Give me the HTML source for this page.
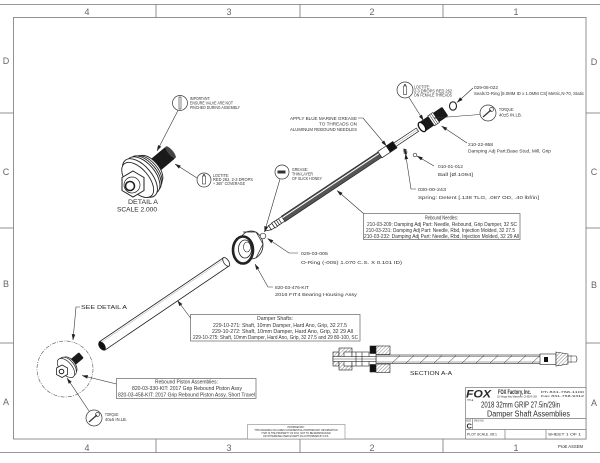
<!DOCTYPE html>
<html><head><meta charset="utf-8">
<style>
html,body{margin:0;padding:0;background:#fff;}
svg{display:block}
text{font-family:"Liberation Sans",sans-serif;fill:#2a2a2a}
.z{font-size:9px;fill:#666}
.n{font-size:4.6px;fill:#333}
.b{font-size:5.4px;fill:#333}
</style></head><body>
<svg width="600" height="463" viewBox="0 0 600 463" xmlns="http://www.w3.org/2000/svg">
<defs>
<marker id="a" markerWidth="6" markerHeight="4" refX="5.8" refY="2" orient="auto" markerUnits="userSpaceOnUse">
<path d="M0,0.2 L6,2 L0,3.8 z" fill="#222"/>
</marker>
<pattern id="h" width="2.5" height="2.5" patternUnits="userSpaceOnUse" patternTransform="rotate(45)">
<rect width="2.5" height="2.5" fill="#fff"/><line x1="0" y1="0" x2="0" y2="2.5" stroke="#333" stroke-width="0.6"/>
</pattern>
</defs>

<!-- FRAME -->
<g stroke="#777" stroke-width="0.8" fill="none">
<line x1="0" y1="4.5" x2="600" y2="4.5"/>
<line x1="0" y1="452.5" x2="600" y2="452.5"/>
<rect x="13.5" y="17.5" width="572.5" height="421.5"/>
<line x1="156" y1="4.5" x2="156" y2="17.5"/>
<line x1="300" y1="4.5" x2="300" y2="17.5"/>
<line x1="443" y1="4.5" x2="443" y2="17.5"/>
<line x1="156" y1="439" x2="156" y2="452.5"/>
<line x1="300" y1="439" x2="300" y2="452.5"/>
<line x1="443" y1="439" x2="443" y2="452.5"/>
<line x1="0" y1="113" x2="13.5" y2="113"/>
<line x1="0" y1="228" x2="13.5" y2="228"/>
<line x1="0" y1="343" x2="13.5" y2="343"/>
<line x1="586" y1="113" x2="600" y2="113"/>
<line x1="586" y1="228" x2="600" y2="228"/>
<line x1="586" y1="343" x2="600" y2="343"/>
</g>
<g class="z" text-anchor="middle">
<text x="87" y="15" class="z">4</text><text x="229" y="15" class="z">3</text>
<text x="372" y="15" class="z">2</text><text x="516" y="15" class="z">1</text>
<text x="87" y="451" class="z">4</text><text x="229" y="451" class="z">3</text>
<text x="372" y="451" class="z">2</text><text x="516" y="451" class="z">1</text>
<text x="6" y="64" class="z">D</text><text x="6" y="175" class="z">C</text>
<text x="6" y="287" class="z">B</text><text x="6" y="405" class="z">A</text>
<text x="594" y="65" class="z">D</text><text x="594" y="175" class="z">C</text>
<text x="594" y="288" class="z">B</text><text x="594" y="406" class="z">A</text>
</g>
<text x="558" y="448" font-size="4.5" textLength="25" lengthAdjust="spacingAndGlyphs" fill="#444">ProE ASSEM</text>

<!-- DETAIL A (large piston) -->
<g transform="translate(140,178) rotate(-40)">
<rect x="10" y="-7.5" width="30" height="15" rx="2" fill="#1a1a1a"/>
<ellipse cx="40" cy="0" rx="2.5" ry="7.5" fill="#444"/>
<g stroke="#222" stroke-width="0.9" fill="#fff">
<ellipse cx="13" cy="0" rx="9" ry="17"/>
<ellipse cx="10" cy="0" rx="10" ry="19"/>
<ellipse cx="7" cy="0" rx="11" ry="21"/>
<ellipse cx="4" cy="0" rx="12" ry="22"/>
<ellipse cx="0" cy="0" rx="12" ry="23"/>
<ellipse cx="-3" cy="0" rx="11" ry="21"/>
</g>
</g>
<g stroke="#222" fill="#fff">
<polygon points="133,171 144,177.5 144,190.5 133,197 122,190.5 122,177.5" stroke-width="1"/>
<circle cx="132" cy="185" r="8" stroke-width="0.7"/>
<circle cx="130" cy="186" r="4.5" stroke-width="1.6"/>
</g>
<text x="128" y="204" font-size="6" textLength="30" lengthAdjust="spacingAndGlyphs" fill="#333">DETAIL  A</text>
<text x="117" y="211.5" font-size="6" textLength="40" lengthAdjust="spacingAndGlyphs" fill="#333">SCALE  2.000</text>

<!-- IMPORTANT callout -->
<circle cx="180" cy="103" r="7.5" fill="#fff" stroke="#333" stroke-width="0.7"/>
<rect x="179" y="97" width="2" height="12" fill="none" stroke="#333" stroke-width="0.6"/>
<path d="M178,110.5 L157,151" fill="none" stroke="#333" stroke-width="0.6" marker-end="url(#a)"/>
<text x="190" y="100" class="n" textLength="20" lengthAdjust="spacingAndGlyphs">IMPORTANT:</text>
<text x="190" y="104.5" class="n" textLength="43" lengthAdjust="spacingAndGlyphs">ENSURE VALVE ARE NOT</text>
<text x="190" y="109" class="n" textLength="50" lengthAdjust="spacingAndGlyphs">PINCHED DURING ASSEMBLY</text>

<!-- LOCTITE detail -->
<circle cx="204" cy="180" r="7" fill="#fff" stroke="#333" stroke-width="0.7"/>
<rect x="202.5" y="176" width="3" height="8" fill="none" stroke="#333" stroke-width="0.6"/>
<rect x="203.3" y="174" width="1.4" height="2" fill="#333"/>
<path d="M197,178 L175,164" fill="none" stroke="#333" stroke-width="0.6" marker-end="url(#a)"/>
<text x="213" y="177" class="n" textLength="16" lengthAdjust="spacingAndGlyphs">LOCTITE:</text>
<text x="213" y="181" class="n" textLength="40" lengthAdjust="spacingAndGlyphs">RED 262, 2-3 DROPS</text>
<text x="213" y="185" class="n" textLength="32" lengthAdjust="spacingAndGlyphs">+ 360° COVERAGE</text>

<!-- DAMPER TUBE -->
<g transform="translate(102,346) rotate(-34.1)">
<rect x="0" y="-5" width="150" height="10" fill="#fff" stroke="#222" stroke-width="0.8"/>
<line x1="2" y1="-3.3" x2="150" y2="-3.3" stroke="#999" stroke-width="0.4"/>
<ellipse cx="150" cy="0" rx="2.5" ry="5" fill="#fff" stroke="#222" stroke-width="0.8"/>
<ellipse cx="0" cy="0" rx="3" ry="5" fill="#111"/>
</g>

<!-- BEARING HOUSING -->
<g stroke="#222" fill="#fff">
<ellipse cx="251" cy="245" rx="12" ry="14" stroke-width="0.8"/>
<path d="M243,232 L256,232 L263,244 L256,258" fill="none" stroke-width="0.7"/>
<ellipse cx="243" cy="250" rx="10" ry="13.5" stroke-width="2.6"/>
<ellipse cx="245" cy="249" rx="6.5" ry="9" stroke-width="0.8"/>
<ellipse cx="247" cy="247" rx="3.5" ry="5" stroke-width="0.6"/>
</g>

<!-- NEEDLE -->
<g transform="translate(265,231) rotate(-33.6)" stroke="#222" stroke-width="0.7">
<polygon points="0,0 6,-2.5 6,2.5" fill="#fff"/>
<rect x="6" y="-2.5" width="4" height="5" fill="#fff"/>
<rect x="10" y="-3" width="3" height="6" fill="#fff"/>
<rect x="13" y="-2.8" width="9" height="5.6" fill="#fff"/>
<line x1="15.5" y1="-2.8" x2="15.5" y2="2.8"/><line x1="18" y1="-2.8" x2="18" y2="2.8"/>
<rect x="22" y="-3.2" width="116" height="6.4" fill="#555"/>
<line x1="22" y1="-1.4" x2="138" y2="-1.4" stroke="#fff" stroke-width="1"/>
<rect x="138" y="-3.8" width="10" height="7.6" fill="#fff"/>
<rect x="148" y="-3.8" width="8" height="7.6" fill="#111"/>
<rect x="156" y="-2" width="27" height="4" fill="#fff"/>
<line x1="156" y1="0" x2="183" y2="0" stroke="#888" stroke-width="0.4"/>
</g>

<!-- STUD 210-22-958 -->
<g transform="translate(422,127) rotate(-34)">
<rect x="0" y="-5.5" width="28" height="11" rx="1.5" fill="#1a1a1a"/>
<rect x="11" y="-6" width="6" height="12" fill="#fff" stroke="#222" stroke-width="0.6"/>
<line x1="13" y1="-6" x2="13" y2="6" stroke="#222" stroke-width="0.5"/>
<line x1="15" y1="-6" x2="15" y2="6" stroke="#222" stroke-width="0.5"/>
<ellipse cx="0" cy="0" rx="2.8" ry="5.3" fill="#fff" stroke="#111" stroke-width="1.3"/>
</g>
<ellipse cx="453" cy="106" rx="3.5" ry="4.2" fill="none" stroke="#222" stroke-width="1.1"/>

<!-- small o-ring, ball, spring -->
<circle cx="263" cy="236" r="2.8" fill="#fff" stroke="#333" stroke-width="0.7"/>
<circle cx="415" cy="155" r="1.8" fill="#fff" stroke="#333" stroke-width="0.7"/>
<path d="M403.5,149 l2.5,1 l-2,1 l2.5,1 l-2,1 l2.5,1" fill="none" stroke="#111" stroke-width="1.1"/>

<!-- GREASE callout -->
<circle cx="282" cy="172" r="7" fill="#fff" stroke="#333" stroke-width="0.7"/>
<rect x="277.5" y="170.5" width="8" height="3" fill="#333"/>
<path d="M280,179 L264.5,232" fill="none" stroke="#333" stroke-width="0.6" marker-end="url(#a)"/>
<text x="292" y="171" class="n" textLength="16" lengthAdjust="spacingAndGlyphs">GREASE:</text>
<text x="292" y="175.5" class="n" textLength="21" lengthAdjust="spacingAndGlyphs">THIN LAYER</text>
<text x="292" y="180" class="n" textLength="30" lengthAdjust="spacingAndGlyphs">OF SLICK HONEY</text>

<!-- 029-03-005 -->
<path d="M298,253 L289,253 L267.5,238.5" fill="none" stroke="#333" stroke-width="0.6" marker-end="url(#a)"/>
<text x="301" y="255" class="n" textLength="27" lengthAdjust="spacingAndGlyphs">029-03-005</text>
<text x="301" y="264" class="n" textLength="101" lengthAdjust="spacingAndGlyphs">O-Ring (-005) 1.070 C.S. X 0.101 ID)</text>

<!-- 820-03-476-KIT -->
<path d="M273,287 L268,287 L255,264" fill="none" stroke="#333" stroke-width="0.6" marker-end="url(#a)"/>
<text x="275" y="289" class="n" textLength="34" lengthAdjust="spacingAndGlyphs">820-03-476-KIT</text>
<text x="275" y="296" class="n" textLength="82" lengthAdjust="spacingAndGlyphs">2016 FIT4 Bearing Housing Assy</text>

<!-- APPLY BLUE MARINE GREASE -->
<path d="M358,118 L363,118 L386.5,146" fill="none" stroke="#333" stroke-width="0.6" marker-end="url(#a)"/>
<text x="290" y="120" class="n" textLength="67" lengthAdjust="spacingAndGlyphs">APPLY BLUE MARINE GREASE</text>
<text x="319" y="125.5" class="n" textLength="38" lengthAdjust="spacingAndGlyphs">TO THREADS ON</text>
<text x="290" y="131" class="n" textLength="67" lengthAdjust="spacingAndGlyphs">ALUMINUM REBOUND NEEDLES</text>

<!-- LOCTITE top right -->
<circle cx="405" cy="90" r="8" fill="#fff" stroke="#333" stroke-width="0.7"/>
<rect x="403.5" y="86" width="3" height="8.5" fill="none" stroke="#333" stroke-width="0.6"/>
<rect x="404.3" y="84" width="1.4" height="2" fill="#333"/>
<path d="M409,97.5 L423.5,120.5" fill="none" stroke="#333" stroke-width="0.6" marker-end="url(#a)"/>
<text x="414" y="88.5" class="n" textLength="16" lengthAdjust="spacingAndGlyphs">LOCTITE:</text>
<text x="414" y="92.5" class="n" textLength="38" lengthAdjust="spacingAndGlyphs">2-3 DROPS RED 262</text>
<text x="414" y="96.5" class="n" textLength="38" lengthAdjust="spacingAndGlyphs">ON FEMALE THREADS</text>

<!-- 029-08-022 -->
<path d="M473,88 L457,102.5" fill="none" stroke="#333" stroke-width="0.6" marker-end="url(#a)"/>
<text x="474" y="89" class="n" textLength="24" lengthAdjust="spacingAndGlyphs">029-08-022</text>
<text x="474" y="95" class="n" textLength="110" lengthAdjust="spacingAndGlyphs">Seals:O-Ring [8.0MM ID x 1.0MM CS] Metric,N-70, Static</text>

<!-- TORQUE top right -->
<circle cx="488" cy="113" r="8" fill="#fff" stroke="#333" stroke-width="0.7"/>
<path d="M483,117 L491,110" stroke="#333" stroke-width="1.2"/>
<circle cx="491.5" cy="109.5" r="2" fill="none" stroke="#333" stroke-width="0.7"/>
<path d="M480,114.5 L434,118" fill="none" stroke="#333" stroke-width="0.6" marker-end="url(#a)"/>
<text x="499" y="111" class="n" textLength="15" lengthAdjust="spacingAndGlyphs">TORQUE:</text>
<text x="499" y="116.5" class="n" textLength="23" lengthAdjust="spacingAndGlyphs">40±5 IN.LB.</text>

<!-- 210-22-958 -->
<path d="M467,143 L441.5,126" fill="none" stroke="#333" stroke-width="0.6" marker-end="url(#a)"/>
<text x="468" y="146" class="n" textLength="25" lengthAdjust="spacingAndGlyphs">210-22-958</text>
<text x="468" y="152.5" class="n" textLength="83" lengthAdjust="spacingAndGlyphs">Damping Adj Part:Base Stud, Mill, Grip</text>

<!-- 010-01-012 -->
<path d="M434,166 L417,156" fill="none" stroke="#333" stroke-width="0.6" marker-end="url(#a)"/>
<text x="438" y="168" class="n" textLength="25" lengthAdjust="spacingAndGlyphs">010-01-012</text>
<text x="438" y="176" class="n" textLength="35" lengthAdjust="spacingAndGlyphs">Ball [Ø.1094]</text>

<!-- 030-00-243 -->
<path d="M416,189 L411,189 L405.5,153.5" fill="none" stroke="#333" stroke-width="0.6" marker-end="url(#a)"/>
<text x="418" y="191" class="n" textLength="28" lengthAdjust="spacingAndGlyphs">030-00-243</text>
<text x="418" y="199" class="n" textLength="121" lengthAdjust="spacingAndGlyphs">Spring: Detent [.138 TLG, .087 OD, .40 lbf/in]</text>

<!-- Rebound Needles box -->
<rect x="363.5" y="213.5" width="156.5" height="26" fill="#fff" stroke="#777" stroke-width="0.8"/>
<path d="M363.5,213.5 L337,190.5" fill="none" stroke="#333" stroke-width="0.6" marker-end="url(#a)"/>
<text x="425" y="219.5" class="b" textLength="33" lengthAdjust="spacingAndGlyphs">Rebound Needles:</text>
<text x="367" y="226" class="b" textLength="150" lengthAdjust="spacingAndGlyphs">210-03-209: Damping Adj Part: Needle, Rebound, Grip Damper, 32 SC</text>
<text x="366" y="232" class="b" textLength="149" lengthAdjust="spacingAndGlyphs">210-03-231: Damping Adj Part: Needle, Rbd, Injection Molded, 32 27.5</text>
<text x="364" y="238" class="b" textLength="155" lengthAdjust="spacingAndGlyphs">210-03-232: Damping Adj Part: Needle, Rbd, Injection Molded, 32 29 All</text>

<!-- Damper Shafts box -->
<rect x="190.5" y="314.5" width="169.5" height="26.5" fill="#fff" stroke="#777" stroke-width="0.8"/>
<path d="M190.5,318 L177.5,300.5" fill="none" stroke="#333" stroke-width="0.6" marker-end="url(#a)"/>
<text x="257" y="320" class="b" textLength="36" lengthAdjust="spacingAndGlyphs">Damper Shafts:</text>
<text x="213" y="327" class="b" textLength="134" lengthAdjust="spacingAndGlyphs">229-10-271: Shaft, 10mm Damper, Hard Ano, Grip, 32 27.5</text>
<text x="212" y="333" class="b" textLength="141" lengthAdjust="spacingAndGlyphs">229-10-272: Shaft, 10mm Damper, Hard Ano, Grip, 32 29 All</text>
<text x="193" y="339" class="b" textLength="165" lengthAdjust="spacingAndGlyphs">229-10-275: Shaft, 10mm Damper, Hard Ano, Grip, 32 27.5 and 29 80-100, SC</text>

<!-- SEE DETAIL A circle and small piston -->
<circle cx="65" cy="369" r="28" fill="none" stroke="#555" stroke-width="0.6" stroke-dasharray="4,1.2,1,1.2"/>
<path d="M80,307 L76,307 L73,340" fill="none" stroke="#333" stroke-width="0.6" marker-end="url(#a)"/>
<text x="81" y="309" font-size="5.5" textLength="46" lengthAdjust="spacingAndGlyphs" fill="#333">SEE  DETAIL  A</text>
<g transform="translate(66,368) scale(0.5) rotate(-40)">
<rect x="10" y="-7.5" width="30" height="15" rx="2" fill="#1a1a1a"/>
<g stroke="#222" stroke-width="1.4" fill="#fff">
<ellipse cx="10" cy="0" rx="10" ry="19"/>
<ellipse cx="5" cy="0" rx="12" ry="22"/>
<ellipse cx="0" cy="0" rx="12" ry="23"/>
</g>
</g>
<g stroke="#222" fill="#fff">
<polygon points="62,365 67.5,368 67.5,374.5 62,377.5 56.5,374.5 56.5,368" stroke-width="0.8"/>
<circle cx="61.5" cy="371.5" r="2.3" stroke-width="1"/>
</g>

<!-- Rebound Piston box -->
<rect x="116.5" y="378.5" width="139.5" height="20" fill="#fff" stroke="#777" stroke-width="0.8"/>
<path d="M116.5,384 L82,375.5" fill="none" stroke="#333" stroke-width="0.6" marker-end="url(#a)"/>
<text x="155" y="383.5" class="b" textLength="63" lengthAdjust="spacingAndGlyphs">Rebound Piston Assemblies:</text>
<text x="132" y="390" class="b" textLength="110" lengthAdjust="spacingAndGlyphs">820-03-330-KIT:     2017 Grip Rebound Piston Assy</text>
<text x="118" y="396.5" class="b" textLength="137" lengthAdjust="spacingAndGlyphs">820-03-458-KIT:     2017 Grip Rebound Piston Assy, Short Travel</text>

<!-- TORQUE bottom -->
<circle cx="94" cy="418" r="8" fill="#fff" stroke="#333" stroke-width="0.7"/>
<path d="M89,422 L97,415" stroke="#333" stroke-width="1.2"/>
<circle cx="97.5" cy="414.5" r="2" fill="none" stroke="#333" stroke-width="0.7"/>
<path d="M89,411 L67,378" fill="none" stroke="#333" stroke-width="0.6" marker-end="url(#a)"/>
<text x="105" y="416" class="n" textLength="14" lengthAdjust="spacingAndGlyphs">TORQUE:</text>
<text x="105" y="421" class="n" textLength="22" lengthAdjust="spacingAndGlyphs">40±5 IN.LB.</text>

<!-- SECTION A-A -->
<g stroke="#222" stroke-width="0.6">
<rect x="376" y="355" width="177" height="8.5" fill="#fff"/>
<line x1="376" y1="356.5" x2="553" y2="356.5" stroke-width="0.4"/>
<line x1="376" y1="362" x2="553" y2="362" stroke-width="0.4"/>
<g stroke-width="0.5">
<line x1="392" y1="363" x2="400" y2="355.5"/><line x1="406" y1="363" x2="414" y2="355.5"/>
<line x1="420" y1="363" x2="428" y2="355.5"/><line x1="434" y1="363" x2="442" y2="355.5"/>
<line x1="448" y1="363" x2="456" y2="355.5"/><line x1="462" y1="363" x2="470" y2="355.5"/>
<line x1="476" y1="363" x2="484" y2="355.5"/><line x1="490" y1="363" x2="498" y2="355.5"/>
<line x1="504" y1="363" x2="512" y2="355.5"/><line x1="518" y1="363" x2="526" y2="355.5"/>
<line x1="532" y1="363" x2="540" y2="355.5"/>
</g>
<rect x="333" y="352" width="6" height="14" fill="url(#h)"/>
<rect x="339" y="348" width="13" height="22" fill="url(#h)"/>
<rect x="344" y="352" width="8" height="14" fill="#fff"/>
<rect x="352" y="352" width="17" height="14" fill="#fff"/>
<rect x="333" y="356.5" width="43" height="5" fill="#fff"/>
<line x1="333" y1="359" x2="376" y2="359" stroke-width="0.4"/>
<line x1="356" y1="352" x2="356" y2="366"/><line x1="362" y1="352" x2="362" y2="366"/>
<rect x="370" y="346" width="6" height="7.5" fill="#111"/>
<rect x="370" y="364.5" width="6" height="7.5" fill="#111"/>
<rect x="376" y="346" width="14" height="8.5" fill="url(#h)"/>
<rect x="376" y="364" width="14" height="8.5" fill="url(#h)"/>
<rect x="540" y="354" width="16" height="10.5" fill="#fff"/>
<rect x="544" y="357" width="4" height="5" fill="#111" stroke="none"/>
<polygon points="556,352 568,354 568,364 556,366" fill="url(#h)"/>
<path d="M568,356 L576,356 Q578,359 576,362 L568,362 z" fill="#fff"/>
<line x1="571" y1="355" x2="571" y2="363" stroke-width="0.4"/>
</g>
<text x="410" y="375" font-size="5.5" textLength="42" lengthAdjust="spacingAndGlyphs" fill="#333">SECTION  A-A</text>

<!-- STAMP -->
<rect x="247.5" y="424.5" width="97.5" height="14.5" fill="#fff" stroke="#888" stroke-width="0.6"/>
<g font-size="2.4" fill="#555" text-anchor="middle">
<text x="296" y="428" fill="#555">PROPRIETARY</text>
<text x="296" y="431" fill="#555">THIS DRAWING INCLUDES CONFIDENTIAL PROPRIETARY INFORMATION</text>
<text x="296" y="434" fill="#555">THAT IS THE PROPERTY OF FOX, NOT TO BE REPRODUCED</text>
<text x="296" y="437" fill="#555">OR OTHERWISE USED EXCEPT AS AUTHORIZED BY FOX.</text>
</g>

<!-- TITLE BLOCK -->
<g stroke="#777" stroke-width="0.7" fill="none">
<rect x="465.5" y="387.5" width="120.5" height="51.5" fill="#fff"/>
<line x1="465.5" y1="418.5" x2="586" y2="418.5"/>
<line x1="472.5" y1="418.5" x2="472.5" y2="429.5"/>
<line x1="465.5" y1="429.5" x2="586" y2="429.5"/>
<line x1="505" y1="429.5" x2="505" y2="439"/>
<line x1="546" y1="429.5" x2="546" y2="439"/>
</g>
<text x="466" y="397.5" font-size="11" font-weight="bold" font-style="italic" textLength="25" lengthAdjust="spacingAndGlyphs" fill="#000">FOX</text>
<text x="498" y="394" font-size="6" font-weight="bold" textLength="33" lengthAdjust="spacingAndGlyphs" fill="#222">FOX Factory, Inc.</text>
<text x="497" y="397.5" font-size="2.3" textLength="40" lengthAdjust="spacingAndGlyphs" fill="#444">130 Hangar Way, Watsonville, CA 95076 USA</text>
<text x="541" y="393" font-size="2.3" textLength="43" lengthAdjust="spacingAndGlyphs" fill="#444">Ph 831-768-1100</text>
<text x="541" y="397" font-size="2.3" textLength="43" lengthAdjust="spacingAndGlyphs" fill="#444">Fax 831-768-9312</text>
<text x="467" y="401" font-size="2.3" fill="#444">TITLE</text>
<text x="481" y="407.5" font-size="8" textLength="79" lengthAdjust="spacingAndGlyphs" fill="#222">2018 32mm GRIP 27.5in/29in</text>
<text x="487" y="416.5" font-size="8" textLength="83" lengthAdjust="spacingAndGlyphs" fill="#222">Damper Shaft Assemblies</text>
<text x="466" y="421.5" font-size="2.3" fill="#444">SIZE</text>
<text x="474" y="421.5" font-size="2.3" fill="#444">DWG NO.</text>
<text x="466.5" y="428.5" font-size="7.5" font-weight="bold" fill="#111">C</text>
<text x="467" y="435.5" font-size="3.2" textLength="30" lengthAdjust="spacingAndGlyphs" fill="#444">PLOT SCALE .08:1</text>
<text x="548" y="435.5" font-size="3.2" textLength="33" lengthAdjust="spacingAndGlyphs" fill="#444">SHEET 1 OF 1</text>
</svg>
</body></html>
